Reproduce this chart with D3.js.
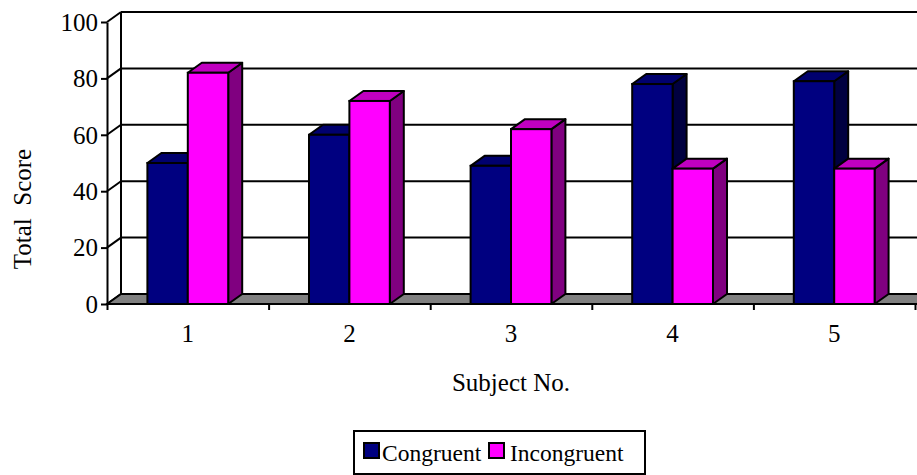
<!DOCTYPE html>
<html>
<head>
<meta charset="utf-8">
<script src="https://cdn.jsdelivr.net/npm/d3@7"></script>
<style>
  html, body { margin: 0; padding: 0; background: #fff; }
  svg { display: block; }
  svg text { font-family: "Liberation Serif", "Times New Roman", Times, "DejaVu Serif", serif; }
</style>
</head>
<body>
<svg id="chart" width="917" height="475"></svg>
<script>
// Total score per subject for each condition
const categories = ["1", "2", "3", "4", "5"];
const seriesNames = ["Congruent", "Incongruent"];
const congruent = [50, 60, 49, 78, 79];
const incongruent = [82, 72, 62, 48, 48];
const yTicks = [0, 20, 40, 60, 80, 100];

(function () {
  const seriesValues = [congruent, incongruent];
  const faceColors = {
    Congruent:   { front: "#000080", top: "#00006e", side: "#000040" },
    Incongruent: { front: "#ff00ff", top: "#c000c0", side: "#800080" }
  };

  const W = 917;
  const DX = 14, DY = -10;          // depth offset of the 3D box
  const plotLeft = 107, plotRight = 915, plotBottom = 304, plotTop = 22;
  const serif = '"Liberation Serif", "Times New Roman", Times, "DejaVu Serif", serif';

  const svg = d3.select("#chart");
  const x = d3.scaleBand().domain(categories).range([plotLeft, plotRight]).paddingInner(0).paddingOuter(0);
  const inner = d3.scaleBand().domain(seriesNames).range([0, x.bandwidth()]).paddingInner(0).paddingOuter(1);
  const y = d3.scaleLinear().domain([0, 100]).range([plotBottom, plotTop]);

  const ink = "#000";
  const lw = 2;

  // Back wall gridlines
  const back = svg.append("g");
  back.selectAll("line.grid").data(yTicks.filter(v => v > 0)).join("line")
    .attr("class", "grid")
    .attr("x1", plotLeft + DX).attr("x2", W + 20)
    .attr("y1", d => y(d) + DY).attr("y2", d => y(d) + DY)
    .attr("stroke", ink).attr("stroke-width", lw);

  // Left wall: diagonals from the front axis to the back wall, and back edge
  back.selectAll("line.diag").data(yTicks).join("line")
    .attr("class", "diag")
    .attr("x1", plotLeft).attr("y1", d => y(d))
    .attr("x2", plotLeft + DX).attr("y2", d => y(d) + DY)
    .attr("stroke", ink).attr("stroke-width", lw);
  back.append("line")
    .attr("x1", plotLeft + DX).attr("x2", plotLeft + DX)
    .attr("y1", y(0) + DY).attr("y2", y(100) + DY)
    .attr("stroke", ink).attr("stroke-width", lw);

  // Floor
  svg.append("polygon")
    .attr("points", [[plotLeft, y(0)], [plotLeft + DX, y(0) + DY], [W + 40, y(0) + DY], [W + 40 - DX, y(0)]].join(" "))
    .attr("fill", "#808080").attr("stroke", ink).attr("stroke-width", lw);

  // 3D columns
  const bars = [];
  categories.forEach((c, i) => {
    seriesNames.forEach((s, j) => {
      bars.push({ cat: c, series: s, value: seriesValues[j][i] });
    });
  });

  const barG = svg.append("g");
  bars.forEach(b => {
    const x0 = x(b.cat) + inner(b.series);
    const w = inner.bandwidth();
    const yt = y(b.value), yb = y(0);
    const col = faceColors[b.series];
    const g = barG.append("g");
    g.append("polygon")
      .attr("points", [[x0 + w, yt], [x0 + w + DX, yt + DY], [x0 + w + DX, yb + DY], [x0 + w, yb]].join(" "))
      .attr("fill", col.side).attr("stroke", ink).attr("stroke-width", lw).attr("stroke-linejoin", "round");
    g.append("polygon")
      .attr("points", [[x0, yt], [x0 + DX, yt + DY], [x0 + w + DX, yt + DY], [x0 + w, yt]].join(" "))
      .attr("fill", col.top).attr("stroke", ink).attr("stroke-width", lw).attr("stroke-linejoin", "round");
    g.append("rect")
      .attr("x", x0).attr("y", yt).attr("width", w).attr("height", yb - yt)
      .attr("fill", col.front).attr("stroke", ink).attr("stroke-width", lw);
  });

  // Y axis
  const yAxis = svg.append("g")
    .attr("transform", `translate(${plotLeft},0)`)
    .call(d3.axisLeft(y).tickValues(yTicks).tickSize(6).tickSizeOuter(0).tickPadding(3));
  yAxis.attr("font-family", null).attr("font-size", null);
  yAxis.selectAll("path.domain, line").attr("stroke", ink).attr("stroke-width", lw);
  yAxis.selectAll("text").style("font-family", serif).style("font-size", "25px").attr("fill", ink).attr("dy", "0.33em");

  // X axis: boundary ticks and centred category labels
  const idx = d3.scaleLinear().domain([0, categories.length]).range([plotLeft, plotRight]);
  const xTicks = svg.append("g")
    .attr("transform", `translate(0,${plotBottom})`)
    .call(d3.axisBottom(idx).ticks(categories.length).tickFormat("").tickSize(6).tickSizeOuter(0));
  xTicks.select("path.domain").attr("d", `M${plotLeft},0H${W + 10}`);
  xTicks.selectAll("path.domain, line").attr("stroke", ink).attr("stroke-width", lw);

  const xLabels = svg.append("g")
    .attr("transform", `translate(0,${plotBottom})`)
    .call(d3.axisBottom(x).tickSize(0).tickPadding(20));
  xLabels.attr("font-family", null).attr("font-size", null);
  xLabels.select("path.domain").remove();
  xLabels.selectAll("text").style("font-family", serif).style("font-size", "25px").attr("fill", ink);

  // Axis titles
  svg.append("text")
    .attr("transform", "translate(31,209) rotate(-90)")
    .attr("text-anchor", "middle")
    .style("font-family", serif).style("font-size", "25px")
    .style("white-space", "pre")
    .text("Total  Score");

  svg.append("text")
    .attr("x", (plotLeft + plotRight) / 2).attr("y", 391)
    .attr("text-anchor", "middle")
    .style("font-family", serif).style("font-size", "25px")
    .text("Subject No.");

  // Legend
  const legend = svg.append("g");
  legend.append("rect")
    .attr("x", 354).attr("y", 431).attr("width", 291).attr("height", 43)
    .attr("fill", "#fff").attr("stroke", ink).attr("stroke-width", lw);
  const legendItems = [
    { name: "Congruent", sx: 364, tx: 382 },
    { name: "Incongruent", sx: 489, tx: 510 }
  ];
  legendItems.forEach(it => {
    legend.append("rect")
      .attr("x", it.sx).attr("y", 443).attr("width", 15).attr("height", 15)
      .attr("fill", faceColors[it.name].front).attr("stroke", ink).attr("stroke-width", lw);
    legend.append("text")
      .attr("x", it.tx).attr("y", 461)
      .style("font-family", serif).style("font-size", "23.5px")
      .text(it.name);
  });
})();
</script>
</body>
</html>
